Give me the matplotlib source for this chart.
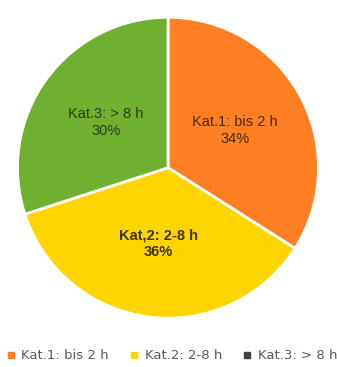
import numpy as np
import matplotlib
matplotlib.use("Agg")
import matplotlib.pyplot as plt
from matplotlib.lines import Line2D

categories = ["Kat.1: bis 2 h", "Kat.2: 2-8 h", "Kat.3: > 8 h"]
inner_labels = ["Kat.1: bis 2 h", "Kat,2: 2-8 h", "Kat.3: > 8 h"]
values = [34, 36, 30]
colors = ["#FF7F22", "#FFD500", "#6FB030"]
marker_colors = ["#FF7F22", "#FFD500", "#404040"]
label_colors = ["#4a2a10", "#3a3300", "#2c3f18"]
label_weights = ["normal", "bold", "normal"]

plt.rcParams['font.family'] = ['Liberation Sans', 'DejaVu Sans']

fig = plt.figure(figsize=(3.37, 3.67), dpi=100)
ax = fig.add_axes([0.052, 0.133, 0.893, 0.82])
wedges, _ = ax.pie(values, colors=colors, startangle=90, counterclock=False,
                   wedgeprops=dict(edgecolor="white", linewidth=2, clip_on=False))
ax.set_aspect('auto')
ax.set_xlim(-1.0, 1.0)
ax.set_ylim(-1.0, 1.0)

for w, lab, v, c, fw in zip(wedges, inner_labels, values, label_colors, label_weights):
    mid = np.deg2rad((w.theta1 + w.theta2) / 2)
    r = 0.51
    ax.text(r * np.cos(mid), r * np.sin(mid), f"{lab}\n{v}%", ha="center", va="center",
            fontsize=10.5, color=c, fontweight=fw, linespacing=1.25)

handles = [Line2D([], [], marker='s', linestyle='none', markersize=4,
                  markerfacecolor=mc, markeredgecolor=mc) for mc in marker_colors]
leg = fig.legend(handles, categories, loc="center", bbox_to_anchor=(0.51, 0.03), ncol=3,
                 frameon=False, prop={'family': 'DejaVu Sans', 'size': 9.5},
                 labelcolor="#595959", handlelength=0.6,
                 handletextpad=0.5, columnspacing=1.6)

fig.savefig("out.png", dpi=100)
